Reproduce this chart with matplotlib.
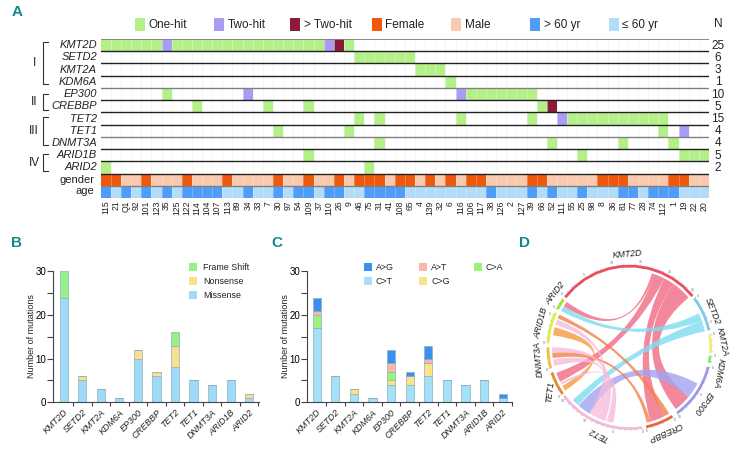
import numpy as np
import matplotlib
matplotlib.use('Agg')
import matplotlib.pyplot as plt
from matplotlib.colors import ListedColormap
from matplotlib.patches import Rectangle, PathPatch
from matplotlib.path import Path

plt.rcParams['font.family'] = ['Liberation Sans', 'DejaVu Sans']

W, H = 736, 451

# ---- panel A data: column indexes
patients = ['115','21','Q1','92','101','123','35','125','122','114','104','107','113','89','34',
            '33','7','30','97','54','109','37','110','26','9','46','75','31','41','108','65','4',
            '139','32','6','116','106','117','38','126','2','127','39','66','52','111','55','25',
            '98','8','36','81','77','28','74','112','1','19','22','20']
genes = ['KMT2D','SETD2','KMT2A','KDM6A','EP300','CREBBP','TET2','TET1','DNMT3A','ARID1B','ARID2']
counts = [25, 6, 3, 1, 10, 5, 15, 4, 4, 5, 2]

one_hit = {
    'KMT2D': [0,1,2,3,4,5,7,8,9,10,11,12,13,14,15,16,17,18,19,20,21,24],
    'SETD2': [25,26,27,28,29,30],
    'KMT2A': [31,32,33],
    'KDM6A': [34],
    'EP300': [6,36,37,38,39,40,41,42],
    'CREBBP': [9,16,20,43],
    'TET2': [25,27,35,42,46,47,48,49,50,51,52,53,54,55],
    'TET1': [17,24,55],
    'DNMT3A': [27,44,51,56],
    'ARID1B': [20,47,57,58,59],
    'ARID2': [0,26],
}
two_hit = {'KMT2D': [6,22], 'EP300': [14,35], 'TET2': [45], 'TET1': [57]}
more_hit = {'KMT2D': [23], 'CREBBP': [44]}

female = [0,1,4,8,12,17,20,23,25,26,27,29,30,32,34,36,37,42,43,49,50,51,56,57]
old = [0,2,4,6,8,9,10,11,14,17,19,20,22,23,26,27,28,29,38,42,44,47,51,52,54,55,56]

cell_colors = ['#ffffff','#b4f088','#a99cf4','#8a1a38','#f0590c','#fbc9ae','#4f9df8','#b2dcf8']

# ---- panel B, C data
bar_genes = ['KMT2D','SETD2','KMT2A','KDM6A','EP300','CREBBP','TET2','TET1','DNMT3A','ARID1B','ARID2']
missense = [24,5,3,1,10,6,8,5,4,5,1]
nonsense = [0,1,0,0,2,1,5,0,0,0,1]
frameshift = [6,0,0,0,0,0,3,0,0,0,0]

c_t = [17,6,2,1,4,4,6,5,4,5,1]
c_g = [0,0,1,0,1,2,3,0,0,0,0]
c_a = [3,0,0,0,2,0,0,0,0,0,0]
a_t = [1,0,0,0,2,0,1,0,0,0,0]
a_g = [3,0,0,0,3,1,3,0,0,0,1]

# ---- panel D data: angles in degrees, clockwise from the top
sector_names = genes
sector_start = [308, 53, 81, 96, 104, 148, 171, 235, 255, 273, 298]
sector_end = [411, 78, 94, 101, 144, 168, 233.5, 252, 270, 295, 306]
sector_colors = ['#e8505f','#7ccbe8','#eef070','#78f078','#9a9ae8','#e8683a','#f0bcd8','#e88a30','#f0c040','#e0f040','#a0e030']

# a1, a2, b1, b2, colour
links = [
    (17, 19, 302, 306, '#f06a84'),
    (19, 27, 243.6, 250.7, '#f06a84'),
    (27, 35, 153, 164, '#f06a84'),
    (35, 50, 130, 143, '#f06a84'),
    (64, 70, 298, 302, '#7fdcf0'),
    (70, 78, 221.5, 227, '#7fdcf0'),
    (118, 130, 211, 221, '#a0a4f0'),
    (149, 153, 292, 295, '#f0814e'),
    (164, 167, 262, 266, '#f0814e'),
    (279, 285, 236, 240, '#f89a40'),
    (266, 270, 198, 204, '#f8bcdc'),
    (256, 261, 204, 208, '#f8bcdc'),
    (287, 291, 208, 211, '#f8bcdc'),
    (241, 243, 192, 197, '#f8bcdc'),
]

# pixel position and rotation of the sector names
label_x = [627, 712.5, 722.5, 719, 703, 665, 598, 550, 539, 541, 555]
label_y = [254, 311.5, 342, 373, 403, 432, 434, 392, 359, 323, 293]
label_rot = [5, -68, -78, -100, -126, -156, 153, 83, 95, 75, 52]


def px_axes(fig, left, top, right, bottom):
    return fig.add_axes([left / W, 1 - bottom / H, (right - left) / W, (bottom - top) / H])


fig = plt.figure(figsize=(W / 100, H / 100), dpi=100)

# overlay in pixel units for legends and loose text
pg = fig.add_axes([0, 0, 1, 1], zorder=5)
pg.set_xlim(0, W)
pg.set_ylim(H, 0)
pg.axis('off')

teal = '#14878a'
for letter, lx, ly in [('A', 17, 12), ('B', 17, 243), ('C', 277, 243), ('D', 524, 243)]:
    pg.text(lx, ly, letter, color=teal, fontsize=11, fontweight='bold', ha='center', va='center')

# ---------- panel A
n_rows = len(genes) + 2
n_cols = len(patients)
grid = np.zeros((n_rows, n_cols), dtype=int)
for r, g in enumerate(genes):
    grid[r, one_hit.get(g, [])] = 1
    grid[r, two_hit.get(g, [])] = 2
    grid[r, more_hit.get(g, [])] = 3
grid[n_rows - 2, :] = 5
grid[n_rows - 2, female] = 4
grid[n_rows - 1, :] = 7
grid[n_rows - 1, old] = 6

ax = px_axes(fig, 100.7, 39, 709, 198)
ax.pcolormesh(np.arange(n_cols + 1), np.arange(n_rows + 1), grid,
              cmap=ListedColormap(cell_colors), vmin=0, vmax=7)
ax.set_xlim(0, n_cols)
ax.set_ylim(n_rows, 0)
ax.vlines(np.arange(1, n_cols), 0, n_rows, color='#ffffff', lw=0.5, alpha=0.35)
ax.vlines(np.arange(1, n_cols), 0, 11, color='#e6e6e6', lw=0.4, alpha=0.7)
for r in range(0, n_rows):
    col = '#808080' if r in (0, 4, 8, 12) else '#222222'
    ax.axhline(r, color=col, lw=1.0 if r else 1.3)
for s in ax.spines.values():
    s.set_visible(False)
ax.set_yticks([])
ax.set_xticks(np.arange(n_cols) + 0.5)
ax.set_xticklabels(patients, rotation=90, fontsize=6.2, color='#222222')
ax.tick_params(axis='x', length=0, pad=2)

row_h = 159 / n_rows
for r, g in enumerate(genes):
    pg.text(97, 39 + row_h * (r + 0.5), g, style='italic', fontsize=8.0, ha='right', va='center', color='#222222')
    pg.text(718, 39 + row_h * (r + 0.5) + 0.5, str(counts[r]), fontsize=8.5, ha='center', va='center', color='#222222')
pg.text(718, 24, 'N', fontsize=8.5, ha='center', va='center', color='#222222')
pg.text(94, 180, 'gender', fontsize=8, ha='right', va='center', color='#222222')
pg.text(94, 191.5, 'age', fontsize=8, ha='right', va='center', color='#222222')

for name, top, bottom in [('I', 42, 84), ('II', 94, 110), ('III', 117, 145), ('IV', 154, 171)]:
    pg.plot([48, 43, 43, 48], [top, top, bottom, bottom], color='#333333', lw=0.8)
    pg.text(34, (top + bottom) / 2, name, fontsize=8.5, ha='center', va='center', color='#222222')

legend_a = [('One-hit', 135, 1), ('Two-hit', 214, 2), ('> Two-hit', 290, 3), ('Female', 372, 4),
            ('Male', 451, 5), ('> 60 yr', 530, 6), ('\u2264 60 yr', 609, 7)]
for text, lx, ci in legend_a:
    pg.add_patch(Rectangle((lx, 18), 10, 13, color=cell_colors[ci], lw=0))
    pg.text(lx + 13.5, 25, text, fontsize=8.5, ha='left', va='center', color='#222222')


# ---------- panels B and C
def stacked(axb, series, colors, left_lim, right_lim):
    xs = np.arange(len(bar_genes))
    bottom = np.zeros(len(xs))
    for vals, col in zip(series, colors):
        vals = np.array(vals)
        axb.bar(xs, vals, 0.44, bottom=bottom, color=col, edgecolor='#8fb0bc', linewidth=0.5)
        bottom = bottom + vals
    axb.set_xlim(left_lim, right_lim)
    axb.set_ylim(0, 30)
    axb.set_yticks([0, 10, 20, 30])
    axb.set_yticks([5, 15, 25], minor=True)
    axb.set_xticks(xs)
    axb.set_xticklabels(bar_genes, rotation=45, ha='right', rotation_mode='anchor',
                        style='italic', fontsize=6.5, color='#222222')
    axb.set_xticks(xs + 0.5, minor=True)
    axb.tick_params(axis='x', which='major', length=0, pad=4)
    axb.tick_params(axis='x', which='minor', length=3, width=0.8, color='#444444')
    axb.tick_params(axis='y', which='both', length=4, width=0.8, color='#444444', labelsize=7, pad=1)
    axb.spines['top'].set_visible(False)
    axb.spines['right'].set_visible(False)
    axb.spines['left'].set_color('#444444')
    axb.spines['bottom'].set_color('#444444')
    axb.patch.set_alpha(0)


ax_b = px_axes(fig, 53, 271.3, 259, 402.3)
b_colors = ['#9edbf8', '#fbe08c', '#98f088']
stacked(ax_b, [missense, nonsense, frameshift], b_colors, -0.577, 10.53)
pg.text(31.5, 336, 'Number of mutations', rotation=90, fontsize=6.5, ha='center', va='center', color='#222222')
for text, ly, col in [('Frame Shift', 267, b_colors[2]), ('Nonsense', 281, b_colors[1]), ('Missense', 295, b_colors[0])]:
    pg.add_patch(Rectangle((189, ly - 4), 8, 8, color=col, lw=0))
    pg.text(203, ly, text, fontsize=6.4, ha='left', va='center', color='#222222')

ax_c = px_axes(fig, 307.3, 271.3, 512, 402.3)
c_colors = ['#a5e0fb', '#fde28a', '#98f57a', '#fbb8a8', '#3a90f0']
stacked(ax_c, [c_t, c_g, c_a, a_t, a_g], c_colors, -0.5, 10.5)
pg.text(285, 336, 'Number of mutations', rotation=90, fontsize=6.5, ha='center', va='center', color='#222222')
for text, lx, ly, col in [('A>G', 364, 267, c_colors[4]), ('A>T', 419, 267, c_colors[3]), ('C>A', 474, 267, c_colors[2]),
                          ('C>T', 364, 281, c_colors[0]), ('C>G', 419, 281, c_colors[1])]:
    pg.add_patch(Rectangle((lx, ly - 4), 8, 8, color=col, lw=0))
    pg.text(lx + 12, ly, text, fontsize=6.4, ha='left', va='center', color='#222222')

# ---------- panel D
cx, cy, rad = 629.3, 347.3, 81.3


def polar(angle, r):
    t = np.radians(angle)
    return r * np.sin(t), r * np.cos(t)


ax_d = px_axes(fig, cx - 110, cy - 110, cx + 110, cy + 110)
ax_d.set_xlim(-110, 110)
ax_d.set_ylim(-110, 110)
ax_d.axis('off')


def arc_points(a, b, r):
    angs = np.linspace(a, b, 12)
    return [polar(v, r) for v in angs]


inner = rad - 4
for a1, a2, b1, b2, col in links:
    side_a = arc_points(a1, a2, inner)
    side_b = arc_points(b1, b2, inner)
    verts = list(side_a) + [(0, 0), side_b[0]] + list(side_b[1:]) + [(0, 0), side_a[0]]
    codes = [Path.MOVETO] + [Path.LINETO] * (len(side_a) - 1) + [Path.CURVE3, Path.CURVE3] \
        + [Path.LINETO] * (len(side_b) - 1) + [Path.CURVE3, Path.CURVE3]
    ax_d.add_patch(PathPatch(Path(verts, codes), facecolor=col, edgecolor='none', alpha=0.8))

for a, b, col in zip(sector_start, sector_end, sector_colors):
    pts = np.array(arc_points(a, b, rad))
    ax_d.plot(pts[:, 0], pts[:, 1], color=col, lw=2.0, solid_capstyle='butt')
    for tick in np.arange(a, b + 0.01, 4):
        x1, y1 = polar(tick, rad + 1)
        x2, y2 = polar(tick, rad + 2.2)
        ax_d.plot([x1, x2], [y1, y2], color='#999999', lw=0.3)
    for j, tick in enumerate(np.arange(a, b + 0.01, 20)):
        x1, y1 = polar(tick, rad + 4.5)
        ax_d.text(x1, y1, str(j * 5), fontsize=2.6, color='#777777', ha='center', va='center')

for name, lx, ly, rot in zip(sector_names, label_x, label_y, label_rot):
    pg.text(lx, ly, name, style='italic', fontsize=6.4, rotation=rot, rotation_mode='anchor',
            ha='center', va='center', color='#222222')

fig.savefig('out.png', dpi=100)
